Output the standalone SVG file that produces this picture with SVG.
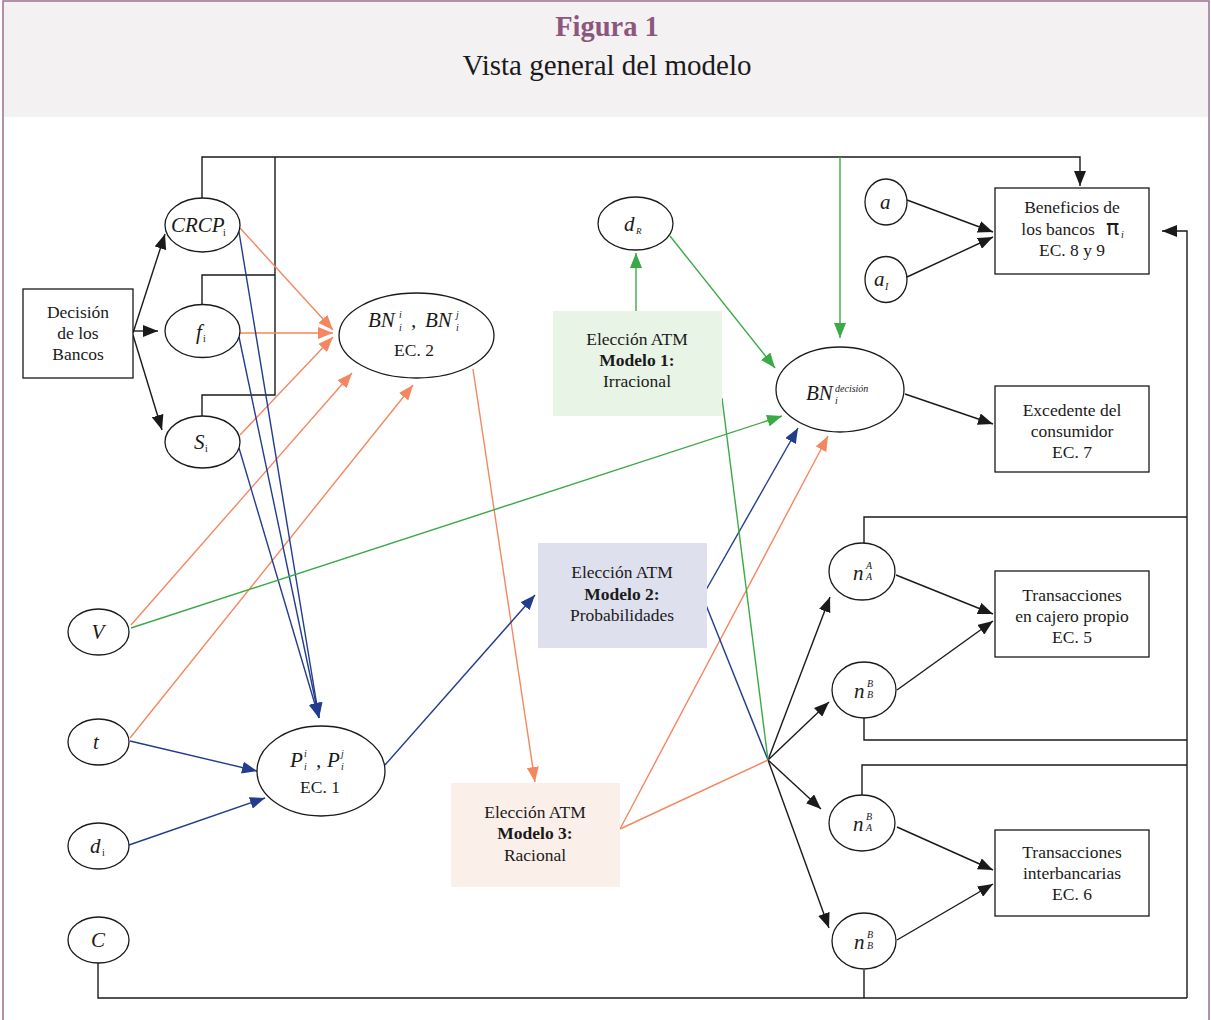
<svg xmlns="http://www.w3.org/2000/svg" width="1211" height="1020" viewBox="0 0 1211 1020">
<style>
  .t { font-family: "Liberation Serif", "DejaVu Serif", serif; font-size: 17.5px; fill: #1a1a1a; text-anchor: middle; }
  .m { font-family: "Liberation Serif", "DejaVu Serif", serif; font-style: italic; font-size: 21px; fill: #1a1a1a; }
  .s { font-family: "Liberation Serif", "DejaVu Serif", serif; font-style: italic; font-size: 10px; fill: #1a1a1a; }
  .b { font-weight: bold; }
  .node { fill: #ffffff; stroke: #1a1a1a; stroke-width: 1.3; }
  .box { fill: #ffffff; stroke: #1a1a1a; stroke-width: 1.3; }
  .k { fill: none; stroke: #1a1a1a; stroke-width: 1.4; }
  .o { fill: none; stroke: #f4875f; stroke-width: 1.4; }
  .u { fill: none; stroke: #223c8e; stroke-width: 1.4; }
  .g { fill: none; stroke: #3aaa45; stroke-width: 1.4; }
  .ak { marker-end: url(#mk); }
  .ao { marker-end: url(#mo); }
  .au { marker-end: url(#mu); }
  .ag { marker-end: url(#mg); }
</style>
<defs>
  <marker id="mk" markerUnits="userSpaceOnUse" markerWidth="16" markerHeight="12" refX="15" refY="6" orient="auto"><path d="M0,0 L15,6 L0,12 Z" fill="#1a1a1a"/></marker>
  <marker id="mo" markerUnits="userSpaceOnUse" markerWidth="16" markerHeight="12" refX="15" refY="6" orient="auto"><path d="M0,0 L15,6 L0,12 Z" fill="#f4875f"/></marker>
  <marker id="mu" markerUnits="userSpaceOnUse" markerWidth="16" markerHeight="12" refX="15" refY="6" orient="auto"><path d="M0,0 L15,6 L0,12 Z" fill="#223c8e"/></marker>
  <marker id="mg" markerUnits="userSpaceOnUse" markerWidth="16" markerHeight="12" refX="15" refY="6" orient="auto"><path d="M0,0 L15,6 L0,12 Z" fill="#3aaa45"/></marker>
</defs>

<rect x="0" y="0" width="1211" height="1020" fill="#ffffff"/>
<rect x="3" y="1" width="1206" height="116" fill="#f4f1f3"/>
<path d="M3,1020 L3,1 L1209,1 L1209,1020" fill="none" stroke="#9c6e8f" stroke-width="1.5"/>
<text x="607" y="36" text-anchor="middle" style="font-family:'Liberation Serif',serif;font-weight:bold;font-size:28.5px;fill:#8c577d">Figura 1</text>
<text x="607" y="75" text-anchor="middle" style="font-family:'Liberation Serif',serif;font-size:29px;fill:#1a1a1a">Vista general del modelo</text>

<g id="connectors">
  <!-- black -->
  <path class="k ak" d="M133,333 L165,234"/>
  <path class="k ak" d="M133,331 L158,331"/>
  <path class="k ak" d="M133,335 L162,430"/>
  <path class="k ak" d="M202,198 L202,157 L1080,157 L1080,186"/>
  <path class="k" d="M275,157 L275,395 L202,395 L202,416"/>
  <path class="k" d="M275,275 L202,275 L202,304"/>
  <path class="k ak" d="M907,200 L993,232"/>
  <path class="k ak" d="M907,277 L993,237"/>
  <path class="k ak" d="M905,394 L993,424"/>
  <path class="k ak" d="M1187,998 L1187,231 L1162,231"/>
  <path class="k" d="M864,543 L864,517 L1187,517"/>
  <path class="k" d="M864,718 L864,740 L1187,740"/>
  <path class="k" d="M862,795 L862,765 L1187,765"/>
  <path class="k" d="M98,963 L98,998 L1187,998"/>
  <path class="k" d="M864,970 L864,998"/>
  <path class="k ak" d="M768,760 L830,597"/>
  <path class="k ak" d="M768,760 L829,702"/>
  <path class="k ak" d="M768,760 L821,809"/>
  <path class="k ak" d="M768,760 L829,928"/>
  <path class="k ak" d="M896,575 L993,614"/>
  <path class="k ak" d="M897,690 L993,621"/>
  <path class="k ak" d="M897,827 L993,870"/>
  <path class="k ak" d="M897,940 L993,884"/>
  <!-- orange -->
  <path class="o ao" d="M240,228 L333,330"/>
  <path class="o ao" d="M240,333 L333,333"/>
  <path class="o ao" d="M240,435 L333,337"/>
  <path class="o ao" d="M131,625 L352,373"/>
  <path class="o ao" d="M130,738 L413,385"/>
  <path class="o ao" d="M473,369 L535,782"/>
  <path class="o ao" d="M620,829 L828,436"/>
  <path class="o" d="M620,829 L768,760"/>
  <!-- blue -->
  <path class="u au" d="M239,232 L319,718"/>
  <path class="u au" d="M239,337 L319,718"/>
  <path class="u au" d="M239,448 L319,718"/>
  <path class="u au" d="M130,741 L257,771"/>
  <path class="u au" d="M129,845 L265,798"/>
  <path class="u au" d="M385,765 L535,595"/>
  <path class="u au" d="M706,590 L798,428"/>
  <path class="u" d="M706,605 L768,760"/>
  <!-- green -->
  <path class="g ag" d="M636,311 L636,253"/>
  <path class="g ag" d="M670,236 L775,368"/>
  <path class="g ag" d="M840,157 L840,338"/>
  <path class="g ag" d="M131,628 L782,416"/>
  <path class="g" d="M722,398 L768,760"/>
</g>

<g id="decision">
  <rect class="box" x="23" y="289" width="110" height="89"/>
  <text class="t" x="78" y="318">Decisión</text>
  <text class="t" x="78" y="339">de los</text>
  <text class="t" x="78" y="360">Bancos</text>
</g>
<g id="crcp">
  <ellipse class="node" cx="202.5" cy="225" rx="37.5" ry="27"/>
  <text class="m" x="171" y="232">CRCP</text><text class="s" x="223" y="236" style="font-style:normal">i</text>
</g>
<g id="fi">
  <ellipse class="node" cx="202.5" cy="331" rx="37.5" ry="26.5"/>
  <text class="m" x="196" y="339">f</text><text class="s" x="203" y="342" style="font-style:normal">i</text>
</g>
<g id="si">
  <ellipse class="node" cx="202.5" cy="442" rx="37.5" ry="26"/>
  <text class="m" x="194" y="449">S</text><text class="s" x="205" y="452" style="font-style:normal">i</text>
</g>
<g id="bn">
  <ellipse class="node" cx="416.5" cy="335.5" rx="77.5" ry="42.5"/>
  <text class="m" x="368" y="327">BN</text>
  <text class="s" x="399" y="318">i</text><text class="s" x="399" y="331">i</text>
  <text class="m" x="411" y="327">,</text>
  <text class="m" x="425" y="327">BN</text>
  <text class="s" x="456" y="318">j</text><text class="s" x="456" y="331">i</text>
  <text class="t" x="414" y="356">EC. 2</text>
</g>
<g id="dr">
  <ellipse class="node" cx="635.5" cy="223.5" rx="37.5" ry="26.5"/>
  <text class="m" x="624" y="231">d</text><text class="s" x="636" y="234" style="font-size:9px">R</text>
</g>
<g id="modelo1">
  <rect x="553" y="311" width="169" height="105" fill="#e8f4e6"/>
  <text class="t" x="637" y="345">Elección ATM</text>
  <text class="t b" x="637" y="366">Modelo 1:</text>
  <text class="t" x="637" y="387">Irracional</text>
</g>
<g id="bndec">
  <ellipse class="node" cx="840" cy="389.5" rx="64" ry="42.5"/>
  <text class="m" x="806" y="400">BN</text>
  <text class="s" x="835" y="392">decisión</text>
  <text class="s" x="835" y="404">i</text>
</g>
<g id="a">
  <ellipse class="node" cx="886" cy="202" rx="21" ry="23"/>
  <text class="m" x="880" y="209">a</text>
</g>
<g id="ai">
  <ellipse class="node" cx="886" cy="279.5" rx="21" ry="23"/>
  <text class="m" x="874" y="286">a</text><text class="s" x="885" y="290">I</text>
</g>
<g id="beneficios">
  <rect class="box" x="995" y="188" width="154" height="86"/>
  <text class="t" x="1072" y="213">Beneficios de</text>
  <text class="t" x="1058" y="235">los bancos</text>
  <text x="1106" y="235" style="font-family:'DejaVu Sans',sans-serif;font-size:22px;fill:#1a1a1a">π</text>
  <text class="s" x="1121" y="238">i</text>
  <text class="t" x="1072" y="256">EC. 8 y 9</text>
</g>
<g id="excedente">
  <rect class="box" x="995" y="386" width="154" height="86"/>
  <text class="t" x="1072" y="416">Excedente del</text>
  <text class="t" x="1072" y="437">consumidor</text>
  <text class="t" x="1072" y="458">EC. 7</text>
</g>
<g id="v">
  <ellipse class="node" cx="98.5" cy="632" rx="30.5" ry="23"/>
  <text class="m" x="98" y="639" text-anchor="middle">V</text>
</g>
<g id="t">
  <ellipse class="node" cx="98.5" cy="742" rx="30.5" ry="23"/>
  <text class="m" x="96" y="749" text-anchor="middle">t</text>
</g>
<g id="di">
  <ellipse class="node" cx="98.5" cy="846" rx="30.5" ry="23"/>
  <text class="m" x="90" y="853">d</text><text class="s" x="102" y="856" style="font-style:normal">i</text>
</g>
<g id="c">
  <ellipse class="node" cx="98.5" cy="940" rx="30.5" ry="23"/>
  <text class="m" x="98" y="947" text-anchor="middle">C</text>
</g>
<g id="p">
  <ellipse class="node" cx="321" cy="771" rx="64" ry="45"/>
  <text class="m" x="290" y="767">P</text>
  <text class="s" x="304" y="757">i</text><text class="s" x="304" y="770">i</text>
  <text class="m" x="316" y="767">,</text>
  <text class="m" x="327" y="767">P</text>
  <text class="s" x="341" y="757">j</text><text class="s" x="341" y="770">i</text>
  <text class="t" x="320" y="793">EC. 1</text>
</g>
<g id="modelo2">
  <rect x="538" y="543" width="169" height="105" fill="#dfe0ee"/>
  <text class="t" x="622" y="578">Elección ATM</text>
  <text class="t b" x="622" y="600">Modelo 2:</text>
  <text class="t" x="622" y="621">Probabilidades</text>
</g>
<g id="modelo3">
  <rect x="451" y="783" width="169" height="104" fill="#fbefea"/>
  <text class="t" x="535" y="818">Elección ATM</text>
  <text class="t b" x="535" y="839">Modelo 3:</text>
  <text class="t" x="535" y="861">Racional</text>
</g>
<g id="naa">
  <ellipse class="node" cx="862" cy="571.5" rx="33" ry="28.5"/>
  <text class="m" x="853" y="580">n</text><text class="s" x="866" y="569">A</text><text class="s" x="866" y="580">A</text>
</g>
<g id="nbb1">
  <ellipse class="node" cx="864" cy="690" rx="32" ry="28"/>
  <text class="m" x="854" y="698">n</text><text class="s" x="867" y="687">B</text><text class="s" x="867" y="698">B</text>
</g>
<g id="nab">
  <ellipse class="node" cx="862" cy="823" rx="33" ry="28"/>
  <text class="m" x="853" y="831">n</text><text class="s" x="866" y="820">B</text><text class="s" x="866" y="831">A</text>
</g>
<g id="nbb2">
  <ellipse class="node" cx="864" cy="941" rx="32" ry="28"/>
  <text class="m" x="854" y="949">n</text><text class="s" x="867" y="938">B</text><text class="s" x="867" y="949">B</text>
</g>
<g id="propio">
  <rect class="box" x="995" y="571" width="154" height="86"/>
  <text class="t" x="1072" y="601">Transacciones</text>
  <text class="t" x="1072" y="622">en cajero propio</text>
  <text class="t" x="1072" y="643">EC. 5</text>
</g>
<g id="interbancarias">
  <rect class="box" x="995" y="830" width="154" height="86"/>
  <text class="t" x="1072" y="858">Transacciones</text>
  <text class="t" x="1072" y="879">interbancarias</text>
  <text class="t" x="1072" y="900">EC. 6</text>
</g>
</svg>
